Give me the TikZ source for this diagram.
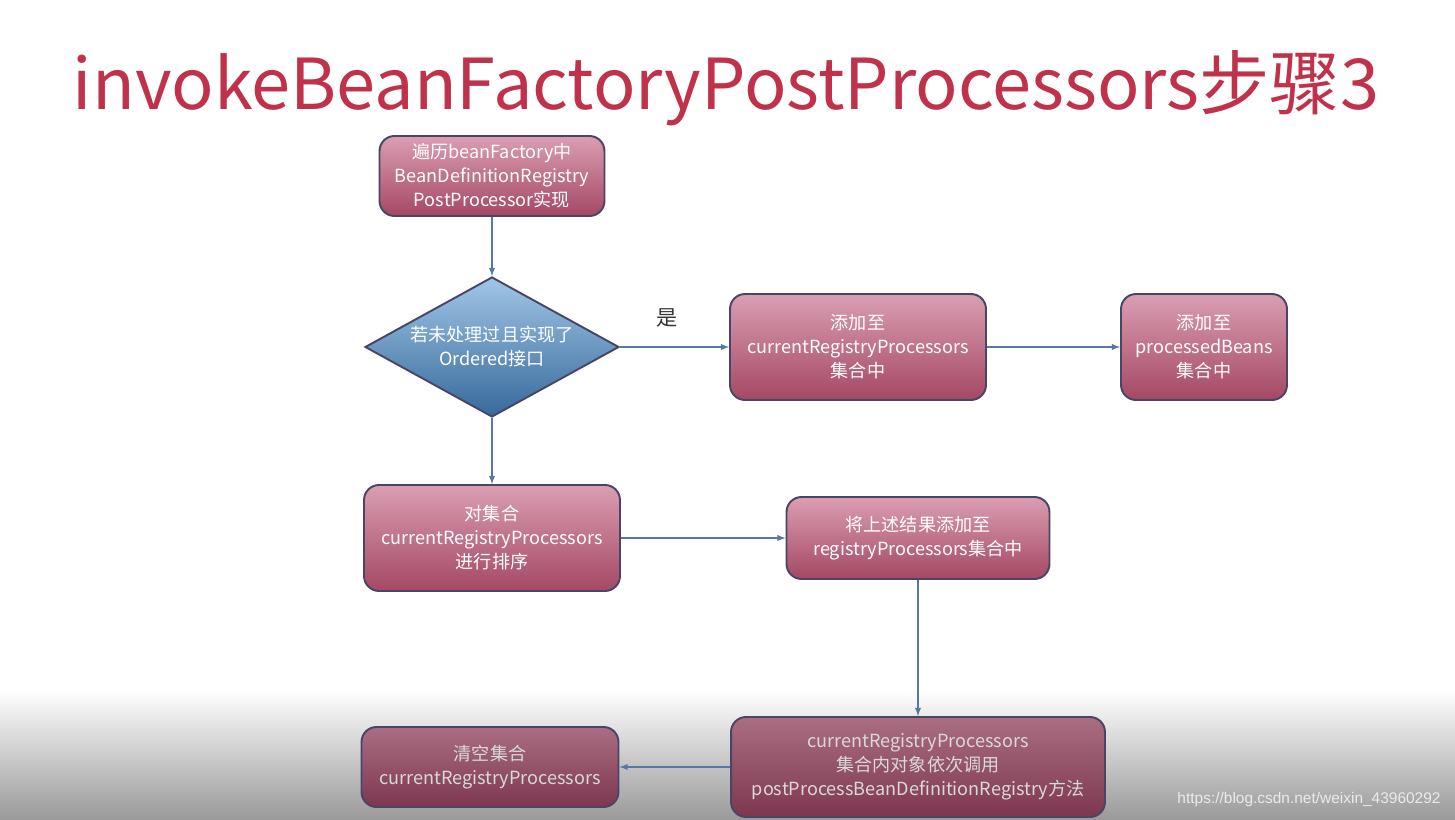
\documentclass[tikz,border=0pt]{standalone}
\usepackage{fontspec}
\setmainfont{Noto Sans CJK SC}
\newfontfamily\urlfont{Liberation Sans}
\usetikzlibrary{shapes,arrows}

\definecolor{titlered}{RGB}{192,50,75}
\definecolor{boxedge}{RGB}{72,70,100}
\definecolor{boxtop}{RGB}{218,158,178}
\definecolor{boxbot}{RGB}{165,72,100}
\definecolor{dimtop}{RGB}{170,110,130}
\definecolor{dimbot}{RGB}{125,55,80}
\definecolor{diatop}{RGB}{160,198,230}
\definecolor{diabot}{RGB}{55,105,155}
\definecolor{flowline}{RGB}{85,120,165}

\begin{document}
\begin{tikzpicture}[x=0.02cm,y=-0.02cm]
		\tikzstyle {proc} = [draw=boxedge, line width=1.1pt, rounded corners=0.3cm, top color=boxtop, bottom color=boxbot, text=white, align=center, font=\fontsize{10.3}{13.6}\selectfont, inner sep=2pt]
		\tikzstyle {proc dim} = [proc, top color=dimtop, bottom color=dimbot, text=white!85!black]
		\tikzstyle {decision} = [diamond, draw=boxedge, line width=1.1pt, top color=diatop, bottom color=diabot, text=white, align=center, font=\fontsize{10.3}{13.6}\selectfont, inner sep=0pt, aspect=1.8, minimum width=5.08cm, minimum height=2.8cm]
		\tikzstyle {flow} = [draw=flowline, -latex, line width=0.6pt]

		\useasboundingbox (0,0) rectangle (1455,820);
		\fill[white] (0,0) rectangle (1455,690);
		\shade[top color=white, bottom color=black!40] (0,690) rectangle (1455,820);

		\node[text=titlered, font=\fontsize{40}{48}\selectfont] (title) at (726,88) {invokeBeanFactoryPostProcessors步骤3};

		\node[proc, minimum width=4.5cm, minimum height=1.6cm] (scan) at (492,176) {遍历beanFactory中\\BeanDefinitionRegistry\\PostProcessor实现};
		\node[decision] (ordered) at (492,347) {若未处理过且实现了\\Ordered接口};
		\node[proc, minimum width=5.12cm, minimum height=2.12cm] (addcur) at (858,347) {添加至\\currentRegistryProcessors\\集合中};
		\node[proc, minimum width=3.32cm, minimum height=2.12cm] (addbeans) at (1204,347) {添加至\\processedBeans\\集合中};
		\node[proc, minimum width=5.12cm, minimum height=2.12cm] (sort) at (492,538) {对集合\\currentRegistryProcessors\\进行排序};
		\node[proc, minimum width=5.26cm, minimum height=1.64cm] (addreg) at (918,538) {将上述结果添加至\\registryProcessors集合中};
		\node[proc dim, minimum width=7.48cm, minimum height=2cm] (invoke) at (918,767) {currentRegistryProcessors\\集合内对象依次调用\\postProcessBeanDefinitionRegistry方法};
		\node[proc dim, minimum width=5.14cm, minimum height=1.6cm] (clear) at (490,767) {清空集合\\currentRegistryProcessors};

		\node[text=black!80, font=\fontsize{12}{14}\selectfont] (yes) at (667,318) {是};

		\draw[flow] (scan) -- (ordered);
		\draw[flow] (ordered) -- (addcur);
		\draw[flow] (addcur) -- (addbeans);
		\draw[flow] (ordered) -- (sort);
		\draw[flow] (sort) -- (addreg);
		\draw[flow] (addreg) -- (invoke);
		\draw[flow] (invoke) -- (clear);

		\node[text=white!92!black, font=\urlfont\fontsize{8.8}{10}\selectfont] (mark) at (1309,800) {https://blog.csdn.net/weixin\_43960292};
	\end{tikzpicture}
\end{document}
